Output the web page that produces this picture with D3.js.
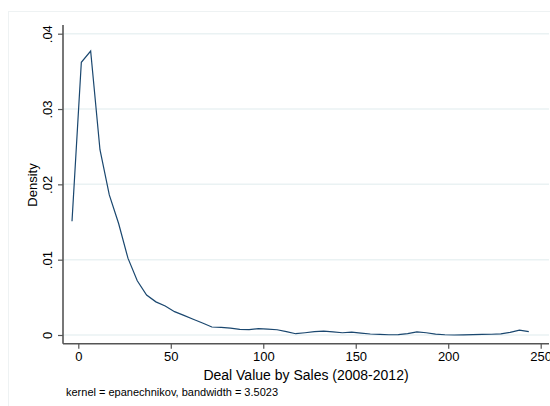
<!DOCTYPE html>
<html><head><meta charset="utf-8">
<script src="https://cdn.jsdelivr.net/npm/d3@7"></script>
<style>body{margin:0;background:#fff}svg{display:block}text{font-family:"Liberation Sans",Arial,Helvetica,sans-serif;fill:#000}</style>
</head><body>
<script>
const xStart = -3.4, xStep = 5.04;
const densityValues = [0.0151,0.0362,0.0377,0.0246,0.0186,0.0148,0.0102,0.0072,0.0053,0.0044,
0.00385,0.0031,0.0026,0.0021,0.0016,0.00106,0.00100,0.00090,0.00075,0.00072,
0.00084,0.00078,0.00070,0.00045,0.00017,0.00030,0.00045,0.00052,0.00042,0.00030,
0.00038,0.00025,0.00013,0.00008,0.00003,0.00005,0.00018,0.00042,0.00030,0.00012,
0.00003,0.0,0.00002,0.00005,0.00008,0.0001,0.00015,0.00035,0.00065,0.00045];
const xPoints = densityValues.map((d,i)=>xStart + xStep*i);
const yTicks = [0,0.01,0.02,0.03,0.04];
const yTickLabels = ["0",".01",".02",".03",".04"];
const xTicks = [0,50,100,150,200,250];
const xTitle = "Deal Value by Sales (2008-2012)";
const yTitle = "Density";
const note = "kernel = epanechnikov, bandwidth = 3.5023";

(function(){
const W=550,H=406;
const svg=d3.select("body").append("svg").attr("width",W).attr("height",H);
svg.append("rect").attr("x",8.5).attr("y",11.5).attr("width",560).attr("height",420).attr("fill","#fff").attr("stroke","#eef2f3");
const x=d3.scaleLinear().domain([0,250]).range([78.3,540.7]);
const y=d3.scaleLinear().domain([0,0.04]).range([335,33.7]);
const pL=63,pR=549,pT=25,pB=343.7;

svg.append("g").selectAll("line").data(yTicks).join("line")
  .attr("x1",pL).attr("x2",pR).attr("y1",d=>y(d)).attr("y2",d=>y(d))
  .attr("stroke","#eaf2f3").attr("stroke-width",1.5);

const ya=svg.append("g").attr("transform",`translate(${pL},0)`)
  .call(d3.axisLeft(y).tickValues(yTicks).tickFormat((d,i)=>yTickLabels[i]).tickSize(5));
ya.select(".domain").remove();
ya.selectAll(".tick line").attr("stroke","#555").attr("stroke-width",1.2);
ya.selectAll(".tick text").attr("font-size",13).attr("text-anchor","middle")
  .attr("x",0).attr("dy","0.35em").attr("transform","translate(-16,0) rotate(-90)");
svg.append("line").attr("x1",pL).attr("x2",pL).attr("y1",pT).attr("y2",pB).attr("stroke","#555").attr("stroke-width",1.6);

const xa=svg.append("g").attr("transform",`translate(0,${pB})`)
  .call(d3.axisBottom(x).tickValues(xTicks).tickSize(5).tickPadding(3));
xa.select(".domain").remove();
xa.selectAll(".tick line").attr("stroke","#555").attr("stroke-width",1.2);
xa.selectAll(".tick text").attr("font-size",13);
svg.append("line").attr("x1",pL).attr("x2",pR).attr("y1",pB).attr("y2",pB).attr("stroke","#555").attr("stroke-width",1.6);

svg.append("path").datum(densityValues.map((d,i)=>[xPoints[i],d]))
  .attr("d",d3.line().x(d=>x(d[0])).y(d=>y(d[1])))
  .attr("fill","none").attr("stroke","#1a476f").attr("stroke-width",1.2);

svg.append("text").attr("x",306).attr("y",380).attr("text-anchor","middle").attr("font-size",14).text(xTitle);
svg.append("text").attr("transform","translate(37,185) rotate(-90)").attr("text-anchor","middle").attr("font-size",13).text(yTitle);
svg.append("text").attr("x",66).attr("y",396).attr("font-size",11).text(note);
})();
</script>
</body></html>
